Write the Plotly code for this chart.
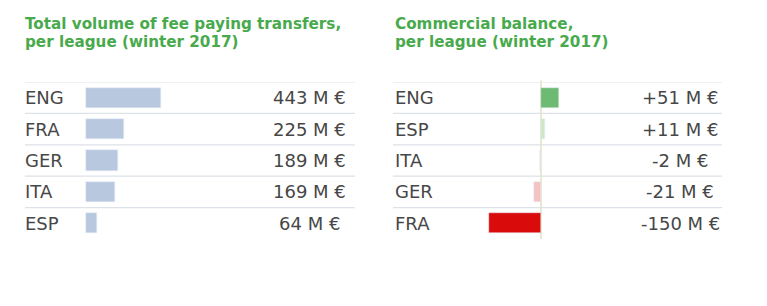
import plotly.graph_objects as go

W, H = 767, 306

# data
vol_leagues = ["ENG", "FRA", "GER", "ITA", "ESP"]
vol_values = [443, 225, 189, 169, 64]
vol_labels = ["443 M €", "225 M €", "189 M €", "169 M €", "64 M €"]

bal_leagues = ["ENG", "ESP", "ITA", "GER", "FRA"]
bal_values = [51, 11, -2, -21, -150]
bal_labels = ["+51 M €", "+11 M €", "-2 M €", "-21 M €", "-150 M €"]
bal_colors = ["#6dbb72", "#cfe6c8", "#f6d3d3", "#f4c4c4", "#d90b0b"]

title_left = ["Total volume of fee paying transfers,", "per league (winter 2017)"]
title_right = ["Commercial balance,", "per league (winter 2017)"]

FONT = "DejaVu Sans"
TXT = "#474747"
GREEN = "#48aa4c"


def px_x(p):
    return p / W


def px_y(p):
    return 1 - p / H


fig = go.Figure()

idx = list(range(5))
fig.add_trace(go.Bar(x=vol_values, y=idx, orientation="h", marker_color="#b8c8df",
                     width=0.64, xaxis="x", yaxis="y", showlegend=False, hoverinfo="skip"))
fig.add_trace(go.Bar(x=bal_values, y=idx, orientation="h", marker_color=bal_colors,
                     width=0.64, xaxis="x2", yaxis="y2", showlegend=False, hoverinfo="skip"))

ydom = [px_y(239), px_y(82)]
fig.update_layout(
    width=W, height=H, margin=dict(l=0, r=0, t=0, b=0),
    paper_bgcolor="white", plot_bgcolor="rgba(0,0,0,0)",
    xaxis=dict(domain=[px_x(25), px_x(355)], range=[-359, 1582], visible=False, fixedrange=True),
    yaxis=dict(domain=ydom, range=[4.5, -0.5], visible=False, fixedrange=True),
    xaxis2=dict(domain=[px_x(393), px_x(722)], range=[-429, 525], visible=False, fixedrange=True),
    yaxis2=dict(domain=ydom, range=[4.5, -0.5], visible=False, fixedrange=True, anchor="x2"),
    bargap=0,
)

shapes = []
annotations = []
for xa, ya, cats, labels, xlab, xval in [
    ("x", "y", vol_leagues, vol_labels, -0.006, (309 - 25) / 330),
    ("x2", "y2", bal_leagues, bal_labels, 0.0, (680 - 393) / 329),
]:
    for i in range(5):
        shapes.append(dict(type="line", xref=f"{xa} domain", yref=ya, x0=0, x1=1,
                           y0=i - 0.5, y1=i - 0.5, line=dict(color="#dde2e8", width=1.2), layer="below"))
        annotations.append(dict(xref=f"{xa} domain", yref=ya, x=xlab, y=i, text=cats[i],
                                showarrow=False, xanchor="left", yanchor="middle",
                                font=dict(family=FONT, size=18, color=TXT)))
        annotations.append(dict(xref=f"{xa} domain", yref=ya, x=xval, y=i, text=labels[i],
                                showarrow=False, xanchor="center", yanchor="middle",
                                font=dict(family=FONT, size=18, color=TXT)))

shapes.append(dict(type="line", xref="x2", yref="y2 domain", x0=0, x1=0, y0=0, y1=1.01,
                   line=dict(color="#e2e4c8", width=1.6), layer="below"))

for xpx, lines in [(23, title_left), (393, title_right)]:
    for k, line in enumerate(lines):
        annotations.append(dict(xref="paper", yref="paper", x=px_x(xpx), y=px_y(24 + 18.5 * k),
                                text=line, showarrow=False, xanchor="left", yanchor="middle",
                                align="left",
                                font=dict(family=FONT, size=15.2, color=GREEN, weight="bold")))

fig.update_layout(shapes=shapes, annotations=annotations)
fig.write_html("out.html")
